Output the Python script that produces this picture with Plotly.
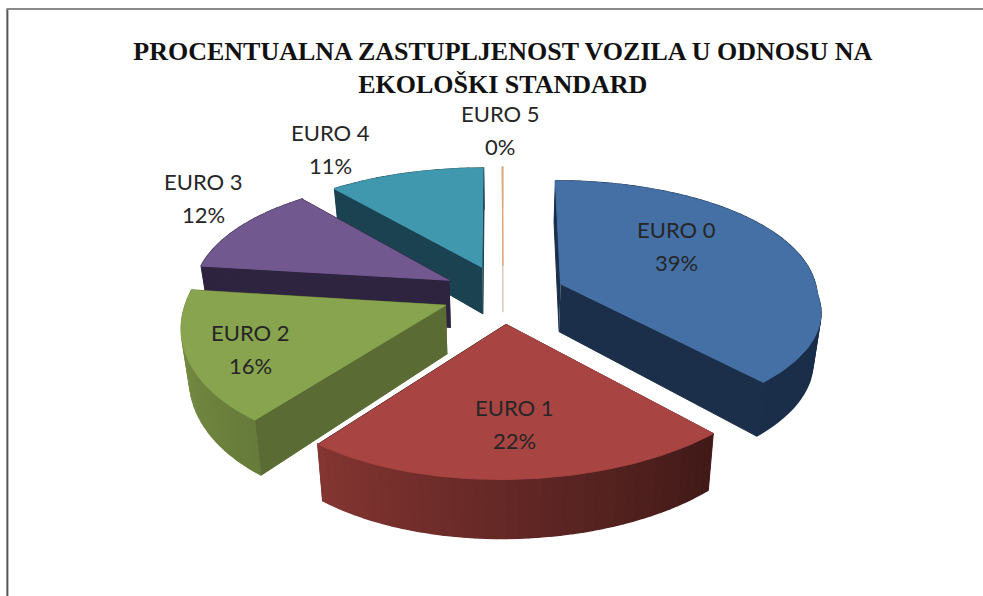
import numpy as np
import plotly.graph_objects as go

categories = ["EURO 0", "EURO 1", "EURO 2", "EURO 3", "EURO 4", "EURO 5"]
values = [39, 22, 16, 12, 11, 0.05]
title_text = "<b>PROCENTUALNA ZASTUPLJENOST VOZILA U ODNOSU NA<br>EKOLOŠKI STANDARD</b>"

# styling and layout (pixel space of the hidden axes)
top_colors = ["#4470A6", "#A84442", "#88A44E", "#71588F", "#4098AF", "#E6A46E"]
wall_colors = ["#1B2F4B", "#4A1E1C", "#5A6C33", "#2E2440", "#1B4250", "#D8C8BC"]
# brightness of the outer wall at the start and end of each slice's arc
wall_shade = [(0.95, 1.0), (0.88, 1.8), (1.15, 1.38), (1, 1), (1, 1), (1, 1)]
label_xy = [(676, 245.5), (514, 423.5), (250, 349), (203, 197.5), (330, 148.5), (500, 129.5)]
LINE_GAP = 16.5

CX, CY, RX, K, P, EXPLODE, DEPTH = 503, 294, 257, 121.6, 0.15, 0.24, 48
PX_FRONT, PX_BACK, SHEAR, TILT, DROP_TAPER = 0.17, 0.10, 12, 8, 0.025
WALL_STEP = 2


def project(X, Y, drop=0.0):
    X, Y = np.asarray(X, float), np.asarray(Y, float)
    s = 1 / (1 - P * Y)
    sx = 1 / (1 - np.where(Y > 0, PX_FRONT, PX_BACK) * Y)
    front = np.maximum(Y, 0)
    px = RX * X * sx * (1 - DROP_TAPER * (drop > 0)) + SHEAR * front
    py = K * Y * s - TILT * X * front + drop * s
    return CX + px, CY + py


def shade(hex_color, f):
    rgb = [int(hex_color[i:i + 2], 16) for i in (1, 3, 5)]
    return "rgb(%d,%d,%d)" % tuple(min(255, int(c * f)) for c in rgb)


fig = go.Figure()


def poly(xs, ys, color, cat, width=1.0):
    fig.add_trace(go.Scatter(x=xs, y=ys, mode="lines", fill="toself", fillcolor=color,
                             line=dict(color=color, width=width), name=cat,
                             hoverinfo="name", showlegend=False))


total = sum(values)
fractions = [v / total for v in values]
starts = np.cumsum([0] + fractions[:-1]) * 360
ends = starts + np.array(fractions) * 360

order = sorted(range(len(values)), key=lambda i: -np.cos(np.radians((starts[i] + ends[i]) / 2)))
for i in order:
    a0, a1 = starts[i], ends[i]
    mid = np.radians((a0 + a1) / 2)
    ox, oy = EXPLODE * np.sin(mid), -EXPLODE * np.cos(mid)
    th = np.radians(np.linspace(a0, a1, max(3, int(a1 - a0) + 2)))
    X, Y = ox + np.sin(th), oy - np.cos(th)

    # radial side walls
    for t in (th[0], th[-1]):
        ex, ey = ox + np.sin(t), oy - np.cos(t)
        x1, y1 = project([ox, ex], [oy, ey])
        x2, y2 = project([ex, ox], [ey, oy], DEPTH)
        poly(list(x1) + list(x2), list(y1) + list(y2), wall_colors[i], categories[i])

    # outer wall, in shaded bands
    idx = list(range(0, len(th) - 1, WALL_STEP))
    for j in sorted(idx, key=lambda n: Y[n]):
        k = min(j + WALL_STEP, len(th) - 1)
        x1, y1 = project(X[j:k + 1], Y[j:k + 1])
        x2, y2 = project(X[j:k + 1][::-1], Y[j:k + 1][::-1], DEPTH)
        u = j / max(1, len(th) - 2)
        f = wall_shade[i][0] + (wall_shade[i][1] - wall_shade[i][0]) * u
        poly(list(x1) + list(x2), list(y1) + list(y2), shade(wall_colors[i], f), categories[i], width=1.5)

    # top face
    tx, ty = project(np.r_[ox, X], np.r_[oy, Y])
    poly(tx, ty, top_colors[i], categories[i])

font = dict(family="Lato, Open Sans, sans-serif", size=22, color="#262626")
for cat, v, (lx, ly) in zip(categories, fractions, label_xy):
    fig.add_annotation(x=lx, y=ly - LINE_GAP, text=cat, showarrow=False, font=font)
    fig.add_annotation(x=lx, y=ly + LINE_GAP, text=f"{round(v * 100)}%", showarrow=False, font=font)

fig.update_layout(
    width=983, height=596, paper_bgcolor="white", plot_bgcolor="white",
    margin=dict(l=0, r=0, t=0, b=0),
    xaxis=dict(range=[0, 983], visible=False, fixedrange=True),
    yaxis=dict(range=[596, 0], visible=False, fixedrange=True),
    title=dict(text=title_text, font=dict(family="Liberation Serif, serif", size=26, color="#111111"),
               x=0.5115, xanchor="center", y=0.90, yanchor="middle"),
)
fig.add_shape(type="line", xref="paper", yref="paper", x0=0.0075, x1=0.0075, y0=0, y1=0.985,
              line=dict(color="#555555", width=2))
fig.add_shape(type="line", xref="paper", yref="paper", x0=0.0065, x1=1, y0=0.985, y1=0.985,
              line=dict(color="#8a8a8a", width=2))
fig.write_html("out.html", config=dict(displayModeBar=False),
               post_script="document.body.style.margin='0';")
